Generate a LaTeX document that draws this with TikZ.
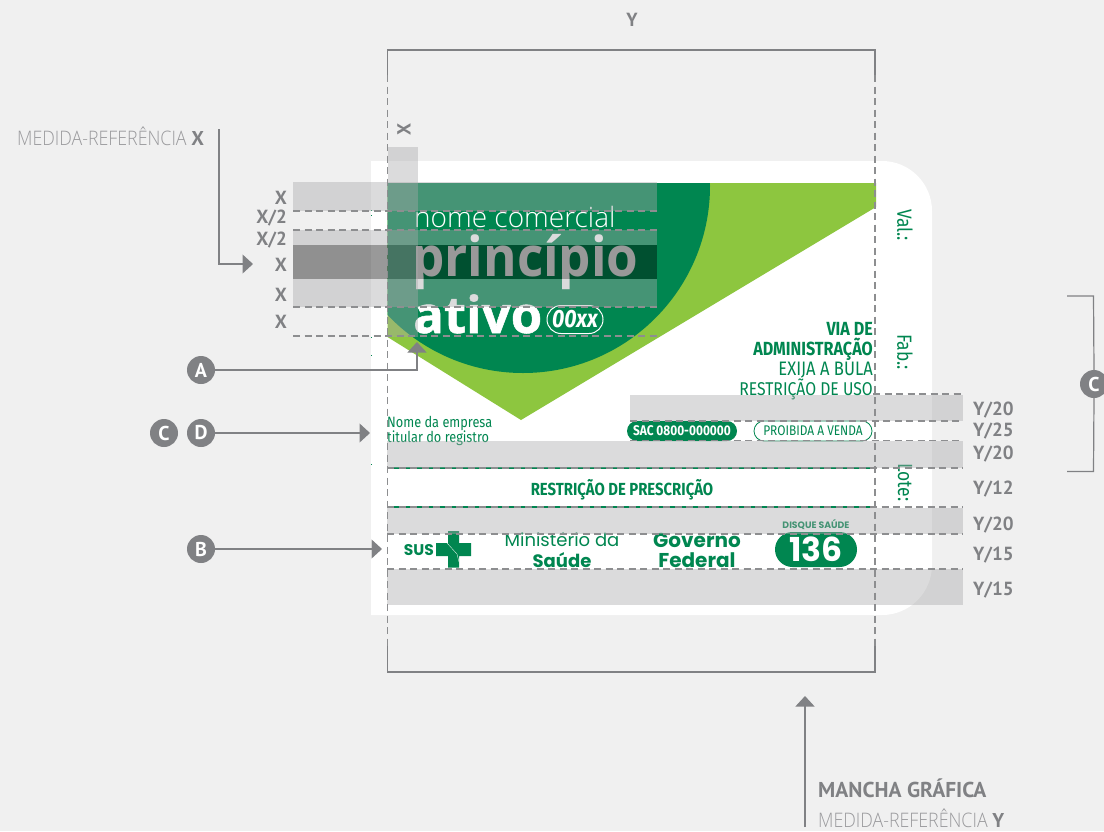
\documentclass[tikz,border=0pt]{standalone}
\usepackage{fontspec}
\usetikzlibrary{arrows.meta}
\setmainfont{PT Sans}
\newfontfamily\lab{PT Sans}
\newfontfamily\thinf[FakeStretch=0.89,UprightFont=* Light]{Open Sans}
\newfontfamily\drug[FakeStretch=0.85]{Fira Sans}
\newfontfamily\osl[UprightFont=* Light]{Open Sans}
\newfontfamily\osb[FakeStretch=0.93]{Open Sans}
\newfontfamily\osx[FakeBold=1,UprightFont=* Bold]{Open Sans}
\newfontfamily\pop{Poppins}
\newcommand{\fs}[1]{\fontsize{#1}{#1}\selectfont}
\definecolor{bgc}{HTML}{F0F0F0}
\definecolor{gd}{HTML}{008650}
\definecolor{gl}{HTML}{8DC63F}
\definecolor{gy}{HTML}{808184}
\definecolor{bandc}{RGB}{168,168,170}
\tikzset{
  band/.style={fill=bandc,fill opacity=.41,draw=none},
  guide/.style={draw=gy!90,line width=1.2pt,dash pattern=on 7pt off 4.5pt},
  frameline/.style={draw=gy,line width=1.2pt},
  conn/.style={draw=gy,line width=1.2pt},
  tipped/.style={conn,-{Triangle[length=10.5pt,width=19pt]}},
  badge/.style={circle,fill=gy,text=white,minimum size=28pt,inner sep=0pt,font=\lab\bfseries\fs{20}},
  dim/.style={text=gy,inner sep=0pt,font=\lab\bfseries\fs{19}},
  diml/.style={dim,anchor=east},
  dimr/.style={dim,anchor=west},
  drugt/.style={text=gd,inner sep=0pt},
  side/.style={text=gd,inner sep=0pt,rotate=-90,font=\drug\fs{20.5}},
}
\begin{document}
\begin{tikzpicture}[x=1pt,y=-1pt]
\useasboundingbox (0,0) rectangle (1104,831);
\fill[bgc] (0,0) rectangle (1104,831);
% card
\fill[white] (371,161) [rounded corners=50pt] -- (932,161) -- (932,615) [sharp corners] -- (371,615) -- cycle;
% label art
\fill[gl] (387.5,183) -- (876,183) -- (876,207) -- (521,420) -- (387.5,337) -- cycle;
\begin{scope}
\clip (387.5,183) -- (876,183) -- (876,207) -- (521,420) -- (387.5,337) -- cycle;
\fill[gd] (523,186) circle[radius=187];
\fill[gd] (387.5,183) rectangle (710,186);
\end{scope}
% crop specks
\foreach \yy in {210,215,337,355,464}{\fill[gd] (371,\yy) rectangle (372,\yy+1.2);}
% texts on label
\node[anchor=base west,inner sep=0pt,text=white,font=\osl\fs{28}] (nome) at (414,227) {nome comercial};
\node[anchor=base west,inner sep=0pt,text=white,font=\osb\bfseries\fs{55}] (princ) at (412,276) {princípio};
\node[anchor=base west,inner sep=0pt,text=white,font=\osx\fs{51}] (ativo) at (413,333) {ativo};
\node[draw=white,line width=1pt,rounded corners=14pt,minimum width=56pt,minimum height=28pt,inner sep=0pt,text=white,font=\drug\bfseries\itshape\fs{25}] (dose) at (575,319.5) {00xx};
\node[drugt,anchor=base east,font=\drug\bfseries\fs{19}] (via1) at (873,335) {VIA DE};
\node[drugt,anchor=base east,font=\drug\bfseries\fs{19}] (via2) at (873,355) {ADMINISTRAÇÃO};
\node[drugt,anchor=base east,font=\drug\fs{19.5}] (via3) at (873,375) {EXIJA A BULA};
\node[drugt,anchor=base east,font=\drug\fs{18.5}] (via4) at (873,395) {RESTRIÇÃO DE USO};
\node[side,anchor=west] (val) at (905,209) {Val.:};
\node[side,anchor=west] (fab) at (905,334) {Fab.:};
\node[side,anchor=west] (lote) at (905,463) {Lote:};
\node[drugt,anchor=base west,font=\drug\fs{15}] (emp1) at (387,427) {Nome da empresa};
\node[drugt,anchor=base west,font=\drug\fs{15}] (emp2) at (387,442) {titular do registro};
\node[fill=gd,rounded corners=10pt,minimum width=110pt,minimum height=20pt,inner sep=0pt,text=white,font=\drug\bfseries\fs{14}] (sac) at (682,431) {SAC 0800-000000};
\node[draw=gd,fill=white,line width=.8pt,rounded corners=10pt,minimum width=118pt,minimum height=20pt,inner sep=0pt,text=gd,font=\drug\fs{14}] (proib) at (813,431) {PROIBIDA A VENDA};
\node[drugt,font=\drug\bfseries\fs{17.5}] (restr) at (622,489.5) {RESTRIÇÃO DE PRESCRIÇÃO};
% logos
\node[drugt,anchor=east,font=\pop\bfseries\fs{15.5}] (sus) at (434,550) {SUS};
\fill[gd] (448,531) rectangle (459,567.5) (436,543) rectangle (471,556);
\draw[white,line width=.3pt] (447,543) -- (457,554) -- (459,562);
\node[drugt,font=\pop\fs{18}] (min) at (562,540) {Ministério da};
\node[drugt,anchor=base,font=\pop\bfseries\fs{18}] (sau) at (562,567) {Saúde};
\node[drugt,anchor=base,font=\pop\bfseries\fs{20}] (gov) at (697,547) {Governo};
\node[drugt,anchor=base,font=\pop\bfseries\fs{20}] (fed) at (697,567) {Federal};
\node[fill=gd,rounded corners=17.5pt,minimum width=82pt,minimum height=35pt,inner sep=0pt,text=white,font=\pop\bfseries\fs{33}] (tel) at (816,549.5) {\raisebox{-1pt}{136}};
\node[drugt,font=\pop\bfseries\fs{9.3}] (disq) at (816,525) {DISQUE SAÚDE};
% green rules
\draw[gd,line width=1.6pt] (387,468) -- (875,468) (387,507) -- (875,507);
% bands: upper block
\fill[band] (293,182) rectangle (657,211);
\fill[band] (293,230) rectangle (657,245);
\fill[black,fill opacity=.4] (293,245) rectangle (657,279);
\fill[band] (293,279) rectangle (657,307);
\fill[band] (388,147) rectangle (418,337);
% bands: lower block
\fill[band] (630,395) rectangle (963,421);
\fill[band] (387,441) rectangle (963,468);
\fill[band] (387,508) rectangle (963,534);
\fill[band] (387,569) rectangle (963,605);
% guides
\foreach \yy in {211,230,307,336}{\draw[guide] (293,\yy) -- (657,\yy);}
\draw[guide] (873,394) -- (963,394);
\draw[guide] (630,421) -- (963,421);
\draw[guide] (630,440.5) -- (963,440.5);
\foreach \yy in {468,507,534,569}{\draw[guide] (387,\yy) -- (963,\yy);}
% mancha frame
\coordinate (fl1) at (387.5,75); \coordinate (fl2) at (387.5,646);
\coordinate (fr1) at (875,75); \coordinate (fr2) at (875,646);
\draw[guide] (fl1) -- (fl2);
\draw[guide] (fr1) -- (fr2);
\draw[frameline] (fl1) -- (387.5,50) -- (875,50) -- (fr1);
\draw[frameline] (fl2) -- (387.5,672) -- (875,672) -- (fr2);
% dim labels
\node[dim] (ytop) at (632,19.5) {Y};
\node[dim,rotate=90] (xtop) at (404,129.5) {X};
\node[diml] (xa) at (287,198) {X};
\node[diml] (xb) at (287,218) {X/2};
\node[diml] (xc) at (287,240) {X/2};
\node[diml] (xd) at (287,265) {X};
\node[diml] (xe) at (287,295) {X};
\node[diml] (xf) at (287,322) {X};
\node[dimr] (y1) at (973,410) {Y/20};
\node[dimr] (y2) at (973,431) {Y/25};
\node[dimr] (y3) at (973,454) {Y/20};
\node[dimr] (y4) at (973,489) {Y/12};
\node[dimr] (y5) at (973,525) {Y/20};
\node[dimr] (y6) at (973,555) {Y/15};
\node[dimr] (y7) at (973,590) {Y/15};
% captions
\node[anchor=base west,inner sep=0pt,text=gy!80,font=\thinf\fs{20}] (medx) at (17,145) {MEDIDA-REFERÊNCIA {\lab\bfseries\textcolor{gy}{X}}};
\node[anchor=base west,inner sep=0pt,text=gy,font=\lab\bfseries\fs{21.5}] (manc) at (818,797) {MANCHA GRÁFICA};
\node[anchor=base west,inner sep=0pt,text=gy!80,font=\thinf\fs{20}] (medy) at (818,827) {MEDIDA-REFERÊNCIA {\lab\bfseries\textcolor{gy}{Y}}};
% badges and connectors
\node[badge] (bA) at (201,370) {A};
\node[badge] (bC) at (164,433) {C};
\node[badge] (bD) at (201,433) {D};
\node[badge] (bB) at (201,549) {B};
\node[badge] (bCr) at (1094,384) {C};
\coordinate (mx0) at (219,129); \coordinate (mx1) at (253,264);
\draw[tipped] (mx0) |- (mx1);
\coordinate (ta) at (417,342);
\draw[tipped] (bA.east) -| (ta);
\coordinate (td) at (370,433);
\draw[tipped] (bD) -- (td);
\coordinate (tb) at (382,549);
\draw[tipped] (bB) -- (tb);
\coordinate (tm0) at (805,827); \coordinate (tm1) at (805,696);
\draw[tipped] (tm0) -- (tm1);
\coordinate (br0) at (1067,296); \coordinate (br1) at (1067,471.5);
\draw[conn] (br0) -- (1093.5,296) -- (bCr.north);
\draw[conn] (br1) -- (1093.5,471.5) -- (bCr.south);
\end{tikzpicture}
\end{document}
